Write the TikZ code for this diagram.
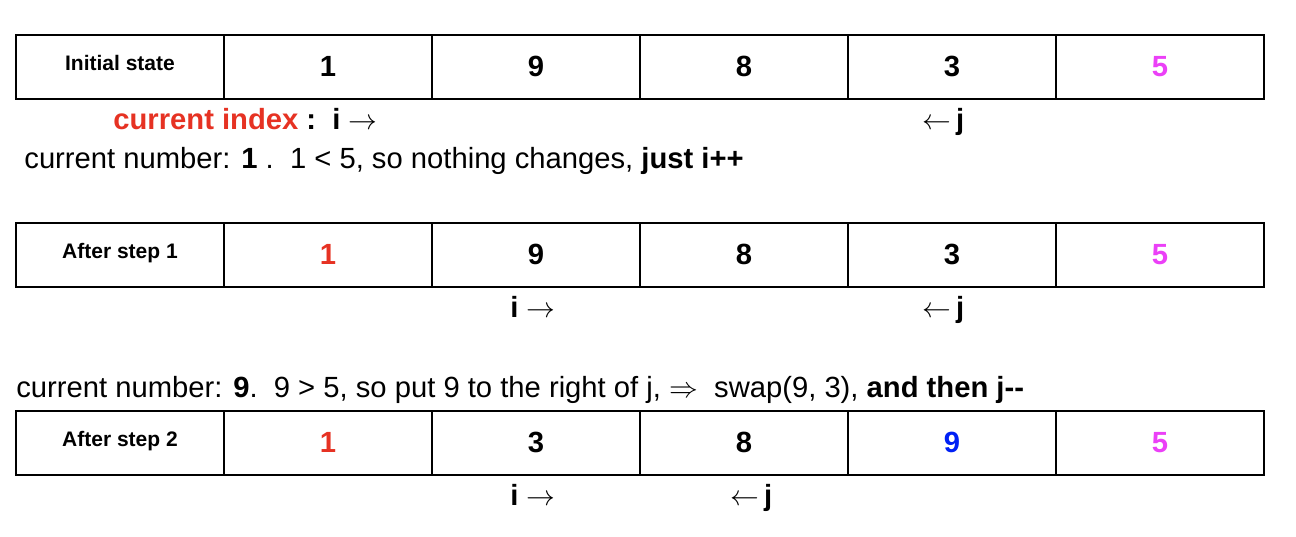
\documentclass[tikz,border=0pt]{standalone}
\usepackage{fontspec}
\setmainfont{Liberation Sans}
\definecolor{idxred}{RGB}{230,50,35}
\definecolor{pivpink}{RGB}{235,64,247}
\definecolor{swpblue}{RGB}{0,32,245}

\begin{document}
\begin{tikzpicture}[x=0.5pt,y=-0.5pt,
  cell/.style={draw,line width=1pt,minimum width=104pt,minimum height=32pt,inner sep=0pt,text height=9pt,text depth=0pt,font=\bfseries\fontsize{14.6}{17}\selectfont},
  hdr/.style={cell,font=\bfseries\fontsize{10.5}{12}\selectfont,text height=8pt,text depth=5pt},
  txt/.style={anchor=base west,inner sep=0pt,font=\fontsize{14.6}{17}\selectfont},
  ptr/.style={txt,font=\bfseries\fontsize{14.6}{17}\selectfont}]
\useasboundingbox (0,0) rectangle (1296,536);

% initial state
\node [hdr] (h0) at (120,67) {Initial state};
\node [cell] (a1) at (328,67) {1};
\node [cell] (a2) at (536,67) {9};
\node [cell] (a3) at (744,67) {8};
\node [cell] (a4) at (952,67) {3};
\node [cell,text=pivpink] (a5) at (1160,67) {5};

\node [ptr] (ci) at (113,129) {\textcolor{idxred}{current index} :\ \ i $\rightarrow$};
\node [ptr] (cj) at (922,129) {$\leftarrow$\,j};
\node [txt] (t1) at (24,168) {current number: \textbf{1} .\ \ 1 < 5, so nothing changes, \textbf{just i++}};

% after step 1
\node [hdr] (h1) at (120,255) {After step 1};
\node [cell,text=idxred] (b1) at (328,255) {1};
\node [cell] (b2) at (536,255) {9};
\node [cell] (b3) at (744,255) {8};
\node [cell] (b4) at (952,255) {3};
\node [cell,text=pivpink] (b5) at (1160,255) {5};

\node [ptr] (bi) at (510,317) {i $\rightarrow$};
\node [ptr] (bj) at (922,317) {$\leftarrow$\,j};
\node [txt] (t2) at (16,397) {current number: \textbf{9}.\ \ 9 > 5, so put 9 to the right of j, $\Rightarrow$\ \ swap(9, 3), \textbf{and then j-{}-}};

% after step 2
\node [hdr] (h2) at (120,443) {After step 2};
\node [cell,text=idxred] (c1) at (328,443) {1};
\node [cell] (c2) at (536,443) {3};
\node [cell] (c3) at (744,443) {8};
\node [cell,text=swpblue] (c4) at (952,443) {9};
\node [cell,text=pivpink] (c5) at (1160,443) {5};

\node [ptr] (ci2) at (510,505) {i $\rightarrow$};
\node [ptr] (cj2) at (730,505) {$\leftarrow$\,j};

\end{tikzpicture}
\end{document}
